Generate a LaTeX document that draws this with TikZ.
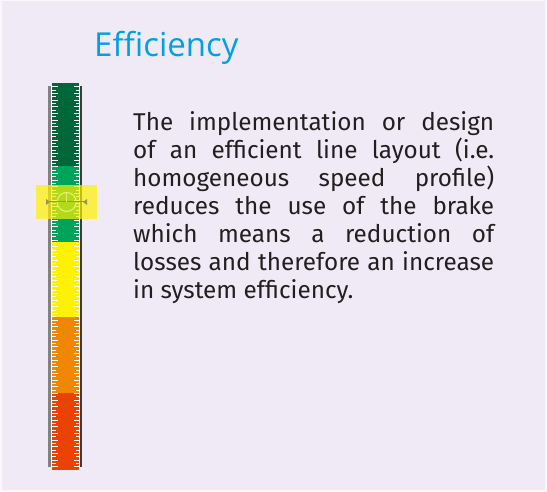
\documentclass[tikz,border=0pt]{standalone}
\usepackage{fontspec}
\setmainfont{Fira Sans}
\newfontfamily\titlefont{Open Sans}
\definecolor{bgcol}{RGB}{239,234,245}
\definecolor{titleblue}{RGB}{0,160,227}
\definecolor{txtcol}{RGB}{35,31,32}
\definecolor{dgreen}{RGB}{0,103,58}
\definecolor{mgreen}{RGB}{0,163,90}
\definecolor{cyellow}{RGB}{255,242,0}
\definecolor{corange}{RGB}{241,135,0}
\definecolor{cred}{RGB}{234,66,0}
\definecolor{railL}{RGB}{130,130,130}
\definecolor{railR}{RGB}{60,60,60}
\definecolor{markcol}{RGB}{150,150,90}
\definecolor{circcol}{RGB}{235,235,110}
\tikzset{
  seg/.style={inner sep=0, outer sep=0},
  tick/.style={draw=white, line width=1pt},
  bodytext/.style={inner sep=0, anchor=base west, text=txtcol},
  titletext/.style={inner sep=0, anchor=base west, text=titleblue, font=\titlefont\fontsize{33}{38}\selectfont},
}
\newcommand{\jline}[1]{\makebox[361pt][s]{#1}}
\begin{document}
\begin{tikzpicture}[x=1pt,y=-1pt]
\useasboundingbox (0,0) rectangle (547,492);
\fill[white!60!bgcol] (0,0) rectangle (547,492);
\fill[bgcol] (2,1) rectangle (545,490);
% bar segments
\fill[dgreen] (52,83) rectangle (79,166);
\fill[mgreen] (52,166) rectangle (79,242);
\fill[cyellow] (52,242) rectangle (79,317);
\fill[corange] (52,317) rectangle (79,393);
\fill[cred] (52,393) rectangle (79,470);
% ticks
\foreach \i in {0,...,114}{
  \pgfmathsetmacro{\yy}{87+\i*3.333}
  \pgfmathsetmacro{\len}{ifthenelse(mod(\i,2)==0,5.5,3.5)}
  \draw[tick] (52,\yy) -- ++(\len,0);
  \draw[tick] (79,\yy) -- ++(-\len,0);
}
% rails
\fill[railL] (48,86) rectangle (51,467);
\fill[white] (51,86) rectangle (52,467);
\fill[white] (78.5,86) rectangle (79.5,467);
\fill[railR] (79.5,86) rectangle (82,467);
% highlight marker
\fill[yellow, opacity=0.7] (36,185) rectangle (97,219);
\coordinate (mL) at (46,202);
\coordinate (mR) at (87,202);
\node[circle, draw=circcol, line width=1.2pt, minimum size=19pt, inner sep=0] (mc) at (66.7,202) {};
\draw[markcol, line width=1pt] (mL) -- (mR);
\draw[circcol, line width=1.2pt] (mc.north) -- (mc.center);
\fill[markcol] (mL) ++(0,-3) -- ++(4,3) -- ++(-4,3) -- cycle;
\fill[markcol] (mR) ++(0,-3) -- ++(-4,3) -- ++(4,3) -- cycle;
% title
\node[titletext] (title) at (94,57) {Efficiency};
% body
\node[bodytext] (body) at (133,131) {\fontsize{24.3}{28}\selectfont\parbox[t]{361pt}{%
\jline{The implementation or design}\\
\jline{of an efficient line layout (i.e.}\\
\jline{homogeneous speed profile)}\\
\jline{reduces the use of the brake}\\
\jline{which means a reduction of}\\
\jline{losses and therefore an increase}\\
in system efficiency.}};
\end{tikzpicture}
\end{document}
